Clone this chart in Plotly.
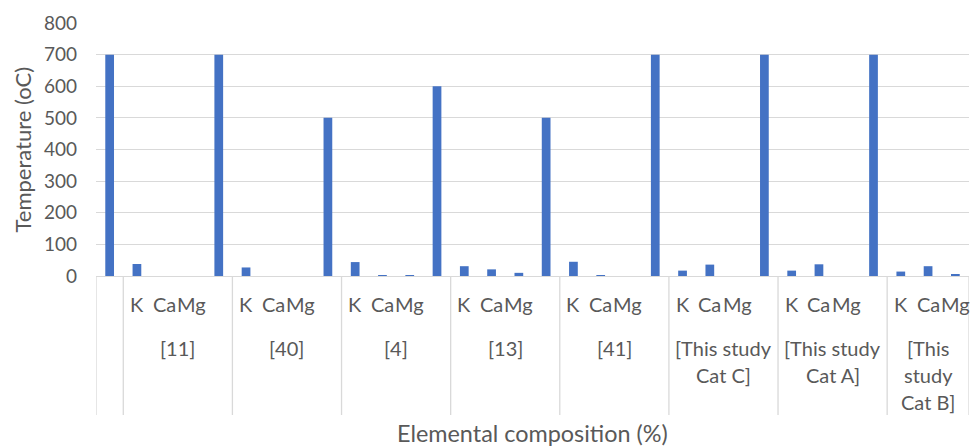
import plotly.graph_objects as go

# Group labels along the lower category level (one leading unnamed slot)
groups = ["", "[11]", "[40]", "[4]", "[13]", "[41]",
          "[This study<br>Cat C]", "[This study<br>Cat A]", "[This<br>study<br>Cat B]"]

# Inner category labels for each group
sub_labels = [
    [""],
    ["K", "Ca", "Mg", ""],
    ["K", "Ca", "Mg", ""],
    ["K", "Ca", "Mg", ""],
    ["K", "Ca", "Mg", ""],
    ["K", "Ca", "Mg", ""],
    ["K", "Ca", "Mg", ""],
    ["K", "Ca", "Mg", ""],
    ["K", "Ca", "Mg"],
]

# Values per inner category (temperature bars sit in the unnamed slots)
values = [
    [700],
    [38, 0, 0, 700],
    [27, 0, 0, 500],
    [44, 3, 1, 600],
    [31, 21, 10, 500],
    [45, 1, 0, 700],
    [17, 36, 0, 700],
    [17, 37, 0, 700],
    [14, 31, 6],
]

y_ticks = [0, 100, 200, 300, 400, 500, 600, 700, 800]

TEXT = "#595959"
GRID = "#d9d9d9"
FONT = "Lato"
FS_TICK = 19
FS_CAT = 20
FS_TITLE_X = 23.4
FS_TITLE_Y = 22

# flatten to sequential slot positions
xs, ys, names = [], [], []
bounds = [-0.5]
pos = 0
for g, labs, vals in zip(groups, sub_labels, values):
    for lab, v in zip(labs, vals):
        xs.append(pos)
        ys.append(v)
        names.append(lab)
        pos += 1
    bounds.append(pos - 0.5)

fig = go.Figure(go.Bar(x=xs, y=ys, marker=dict(color="#4472C4", line=dict(width=0)),
                       hoverinfo="y"))

H_PLOT = 253.0  # plot height in px, used for paper offsets below the axis


def py(px_below):
    return -px_below / H_PLOT


annotations = []
# inner labels
for x, lab in zip(xs, names):
    if lab:
        annotations.append(dict(x=x, y=py(28), xref="x", yref="paper", text=lab,
                                showarrow=False, xanchor="center", yanchor="middle",
                                font=dict(family=FONT, size=FS_CAT, color=TEXT)))
# group labels, one line per row
for i, g in enumerate(groups):
    if not g:
        continue
    cx = (bounds[i] + bounds[i + 1]) / 2
    for j, line in enumerate(g.split("<br>")):
        annotations.append(dict(x=cx, y=py(72 + 27 * j), xref="x", yref="paper", text=line,
                                showarrow=False, xanchor="center", yanchor="middle",
                                font=dict(family=FONT, size=FS_CAT, color=TEXT)))
# axis titles
annotations.append(dict(x=0.5, y=py(157), xref="paper", yref="paper",
                        text="Elemental composition (%)", showarrow=False,
                        xanchor="center", yanchor="middle",
                        font=dict(family=FONT, size=FS_TITLE_X, color=TEXT)))
annotations.append(dict(x=-74 / 873, y=0.5, xref="paper", yref="paper",
                        text="Temperature (oC)", showarrow=False, textangle=-90,
                        xanchor="center", yanchor="middle",
                        font=dict(family=FONT, size=FS_TITLE_Y, color=TEXT)))

shapes = [dict(type="line", xref="x", yref="paper", x0=b, x1=b, y0=0, y1=py(139),
               line=dict(color=GRID, width=1.3)) for b in bounds]

fig.update_layout(
    width=971, height=446,
    margin=dict(l=96, r=2, t=23, b=170),
    paper_bgcolor="white", plot_bgcolor="white",
    bargap=0.68,
    showlegend=False,
    annotations=annotations,
    shapes=shapes,
    xaxis=dict(range=[-0.5, pos - 0.5], showticklabels=False, showgrid=False,
               zeroline=False, showline=False, ticks=""),
    yaxis=dict(range=[0, 800], tickvals=y_ticks, showgrid=True, gridcolor=GRID,
               gridwidth=1.3, zeroline=True, zerolinecolor=GRID, zerolinewidth=1.3,
               showline=False, ticks="", ticklabelstandoff=18,
               tickfont=dict(family=FONT, size=FS_TICK, color=TEXT)),
)

fig.write_html("out.html")
